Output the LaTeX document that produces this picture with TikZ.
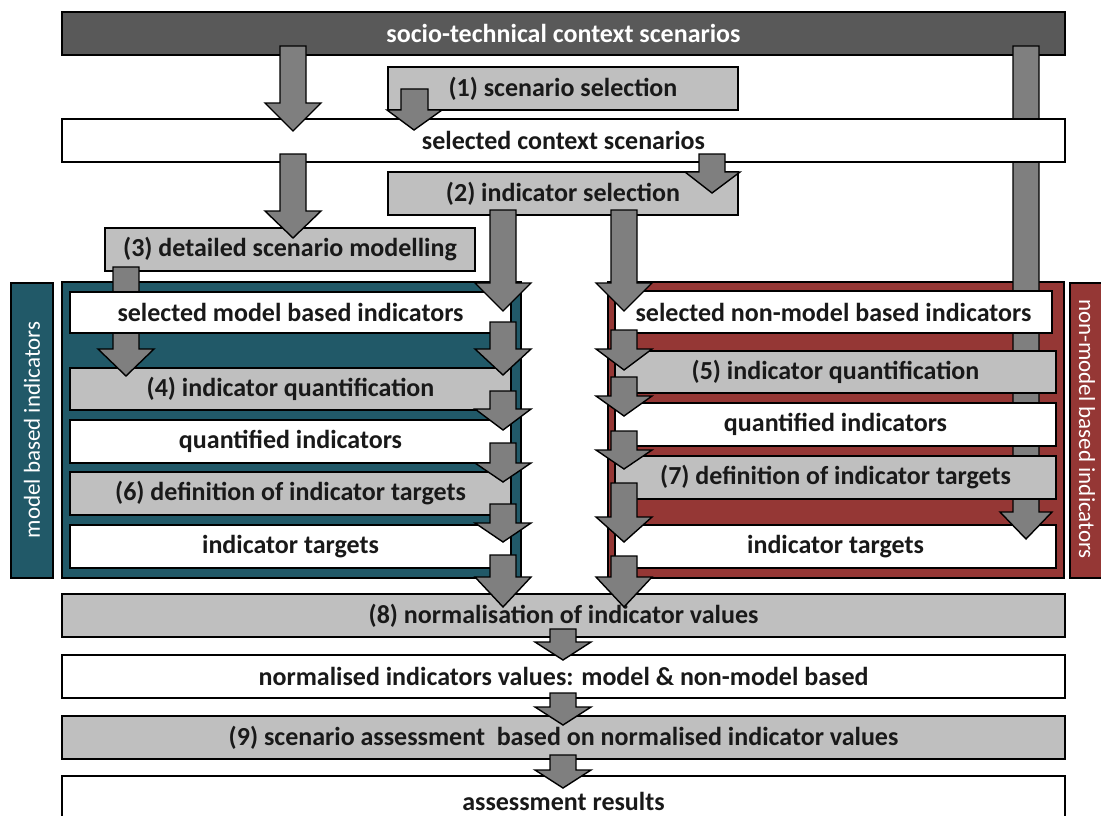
\documentclass[tikz,border=0pt]{standalone}
\usepackage{fontspec}
\setmainfont{Carlito}
\definecolor{barc}{HTML}{595959}
\definecolor{lgray}{HTML}{BFBFBF}
\definecolor{agray}{HTML}{7F7F7F}
\definecolor{tealc}{HTML}{215968}
\definecolor{redc}{HTML}{953735}
\tikzset{
  box/.style={draw=black, line width=1.4pt, inner sep=0pt, outer sep=0pt, anchor=north west,
    font=\bfseries\fontsize{26}{28}\selectfont, text=black!90},
  cont/.style={draw=black, line width=1.8pt},
  arrowst/.style={draw=black, line width=1.4pt, fill=agray, line join=miter},
  sidelabel/.style={text=white, font=\fontsize{23}{25}\selectfont}
}
% box: name, x1, y1, x2, y2, fill, text
\newcommand\bx[7]{\node[box, fill=#6, minimum width={(#4-#2)*1pt}, minimum height={(#5-#3)*1pt}] (#1) at (#2,#3) {#7};}
% block arrow: cx, ytop, yhead, ytip
\newcommand\barr[4]{\draw[arrowst] ({#1-13},#2) -- ({#1+13},#2) -- ({#1+13},#3) -- ({#1+28},#3) -- (#1,#4) -- ({#1-28},#3) -- ({#1-13},#3) -- cycle;}
\begin{document}
\begin{tikzpicture}[x=1pt,y=-1pt]
\useasboundingbox (0,0) rectangle (1101,816);
\clip (0,0) rectangle (1101,816);
% top bar
\bx{top}{62}{12}{1065}{55}{barc}{\textcolor{white}{socio-technical context scenarios}}
% containers
\draw[cont, fill=tealc] (62,282) rectangle (521,578);
\draw[cont, fill=redc] (608,282) rectangle (1064,578);
\draw[cont, fill=tealc, line width=1.4pt] (11,283) rectangle (53,578);
\draw[cont, fill=redc, line width=1.4pt] (1070,283) rectangle (1110,578);
\node[sidelabel, rotate=90] (lml) at (32,430) {model based indicators};
\node[sidelabel, rotate=-90] (rml) at (1087,429) {non-model based indicators};
% right targets box (under long arrow head)
\bx{r5}{615}{525}{1056}{568}{white}{indicator targets}
% long arrow from top bar
\draw[arrowst] (1013,46) -- (1039,46) -- (1039,512) -- (1052,512) -- (1026,539) -- (1000,512) -- (1013,512) -- cycle;
% upper boxes
\bx{s1}{388}{67}{738}{110}{lgray}{(1) scenario selection}
\bx{ctx}{62}{119}{1065}{162}{white}{selected context scenarios}
\bx{s2}{388}{172}{738}{215}{lgray}{(2) indicator selection}
\bx{s3}{105}{228}{475}{271}{lgray}{(3) detailed scenario modelling}
% left column
\bx{l2}{70}{368}{511}{410}{lgray}{(4) indicator quantification}
\barr{126}{267}{349}{376}
\bx{l1}{70}{292}{511}{333}{white}{selected model based indicators}
\bx{l3}{70}{420}{511}{463}{white}{quantified indicators}
\bx{l4}{70}{472}{511}{515}{lgray}{(6) definition of indicator targets}
\bx{l5}{70}{525}{511}{568}{white}{indicator targets}
% right column
\bx{r1}{615}{291}{1052}{333}{white}{selected non-model based indicators}
\bx{r2}{615}{351}{1056}{393}{lgray}{(5) indicator quantification}
\bx{r3}{615}{403}{1056}{446}{white}{quantified indicators}
\bx{r4}{615}{456}{1056}{499}{lgray}{(7) definition of indicator targets}
% bottom boxes
\bx{s8}{62}{594}{1065}{637}{lgray}{(8) normalisation of indicator values}
\bx{norm}{62}{655}{1065}{698}{white}{normalised indicators values: model \& non-model based}
\bx{s9}{62}{716}{1065}{759}{lgray}{(9) scenario assessment\ \ based on normalised indicator values}
\bx{res}{62}{776}{1065}{840}{white}{\raisebox{13pt}{assessment results}}
% upper arrows
\barr{293}{46}{103}{131}
\draw[arrowst] (401,89) -- (428,89) -- (428,110) -- (442,110) -- (414,130) -- (387,110) -- (401,110) -- cycle;
\barr{293}{154}{211}{238}
\draw[arrowst] (699,154) -- (725,154) -- (725,172) -- (740,172) -- (712,193) -- (685,172) -- (699,172) -- cycle;
\barr{503}{210}{283}{311}
\barr{624}{210}{283}{311}
% left chain
\barr{503}{322}{349}{375}
\barr{503}{391}{409}{430}
\barr{503}{443}{463}{482}
\barr{503}{504}{523}{542}
\barr{503}{555}{577}{607}
% right chain
\barr{624}{330}{349}{370}
\barr{624}{377}{396}{416}
\barr{624}{431}{450}{469}
\barr{624}{483}{517}{542}
\barr{624}{556}{577}{607}
% bottom arrows
\barr{563}{629}{642}{660}
\barr{563}{693}{707}{725}
\barr{563}{755}{770}{788}
\end{tikzpicture}
\end{document}
